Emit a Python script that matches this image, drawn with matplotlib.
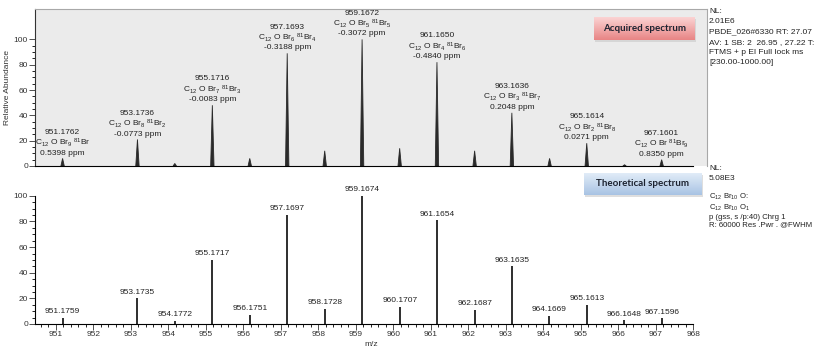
import numpy as np
import matplotlib
matplotlib.use("Agg")
import matplotlib.pyplot as plt

plt.rcParams['font.family'] = ['Liberation Sans', 'DejaVu Sans']
plt.rcParams['mathtext.fontset'] = 'custom'
plt.rcParams['mathtext.rm'] = 'Liberation Sans'
plt.rcParams['mathtext.it'] = 'Liberation Sans:italic'
plt.rcParams['mathtext.bf'] = 'Liberation Sans:bold'

# acquired spectrum - labelled peaks
acq_mz = [951.1762, 953.1736, 955.1716, 957.1693, 959.1672, 961.1650, 963.1636, 965.1614, 967.1601]
acq_int = [6, 21, 48, 89, 100, 82, 42, 18, 5]
acq_formula = [r"C$_{12}$ O Br$_9$ $^{81}$Br", r"C$_{12}$ O Br$_8$ $^{81}$Br$_2$",
               r"C$_{12}$ O Br$_7$ $^{81}$Br$_3$", r"C$_{12}$ O Br$_6$ $^{81}$Br$_4$",
               r"C$_{12}$ O Br$_5$ $^{81}$Br$_5$", r"C$_{12}$ O Br$_4$ $^{81}$Br$_6$",
               r"C$_{12}$ O Br$_3$ $^{81}$Br$_7$", r"C$_{12}$ O Br$_2$ $^{81}$Br$_8$",
               r"C$_{12}$ O Br $^{81}$Br$_9$"]
acq_ppm = ["0.5398", "-0.0773", "-0.0083", "-0.3188", "-0.3072", "-0.4840", "0.2048", "0.0271", "0.8350"]
# acquired spectrum - small unlabelled peaks
acq_minor_mz = [954.17, 956.17, 958.17, 960.17, 962.17, 964.17, 966.17]
acq_minor_int = [2, 6, 12, 14, 12, 6, 1]

# theoretical spectrum
theo_mz = [951.1759, 953.1735, 954.1772, 955.1717, 956.1751, 957.1697, 958.1728, 959.1674,
           960.1707, 961.1654, 962.1687, 963.1635, 964.1669, 965.1613, 966.1648, 967.1596]
theo_int = [5, 20, 2.5, 50, 7, 85, 12, 100, 13.5, 81, 11, 45, 6.5, 15, 3, 4.4]

xmin, xmax = 950.44, 968.37

fig = plt.figure(figsize=(8.19, 3.51), dpi=100)
W, H = 819, 351

def fx(px):
    return px / W

def fy(py):
    return 1 - py / H

# ---- top panel (acquired)
ax1 = fig.add_axes([fx(35), fy(166), fx(707) - fx(35), fy(9) - fy(166)])
ax1.set_facecolor('#ebebeb')
ax1.set_xlim(xmin, xmax)
ax1.set_ylim(0, 124)
hw = 0.045
for m, h in zip(acq_mz + acq_minor_mz, acq_int + acq_minor_int):
    ax1.fill([m - hw, m, m + hw], [0, h, 0], color='#2a2a2a', lw=0.6)
for m, h, f, p in zip(acq_mz, acq_int, acq_formula, acq_ppm):
    ax1.text(m, h + 1.5, f"{m:.4f}\n{f}\n{p} ppm", ha='center', va='bottom',
             fontsize=6, color='#222222', linespacing=1.1)
for s in ['top', 'right']:
    ax1.spines[s].set_color('#a8a8a8')
ax1.spines['left'].set_color('#333333')
ax1.spines['bottom'].set_color('black')
ax1.spines['bottom'].set_bounds(xmin, 968.0)
ax1.set_xticks([])
ax1.set_yticks([0, 20, 40, 60, 80, 100])
ax1.set_yticks([y for y in range(0, 101, 5)], minor=True)
ax1.tick_params(axis='y', labelsize=6, length=4, width=0.6, pad=1, colors='#333333')
ax1.tick_params(axis='y', which='minor', length=2, width=0.6)
ax1.set_ylabel('Relative Abundance', fontsize=6, labelpad=2, color='#333333')

# ---- bottom panel (theoretical)
ax2 = fig.add_axes([fx(35), fy(324), fx(707) - fx(35), fy(183) - fy(324)])
ax2.set_xlim(xmin, xmax)
ax2.set_ylim(0, 110)
ax2.vlines(theo_mz, 0, theo_int, color='#1e1e1e', lw=1.3)
for m, h in zip(theo_mz, theo_int):
    ax2.text(m, h + 2, f"{m:.4f}", ha='center', va='bottom', fontsize=6, color='#222222')
for s in ['top', 'right']:
    ax2.spines[s].set_visible(False)
ax2.spines['left'].set_bounds(0, 100)
ax2.spines['bottom'].set_bounds(xmin, 968.0)
ax2.set_xticks(range(951, 969))
ax2.set_xticks([951 + 0.2 * i for i in range(-2, 86)], minor=True)
ax2.set_yticks([0, 20, 40, 60, 80, 100])
ax2.set_yticks([y for y in range(0, 101, 5)], minor=True)
ax2.tick_params(axis='both', labelsize=6, length=4, width=0.6, pad=1, colors='#333333')
ax2.tick_params(axis='both', which='minor', length=2, width=0.6)
ax2.set_xlabel('m/z', fontsize=6, labelpad=2, color='#333333')

# ---- gradient boxes
def grad_box(x0, y0, x1, y1, c_top, c_bot, label):
    sh = fig.add_axes([fx(x0 + 1), fy(y1 + 2), fx(x1) - fx(x0), fy(y0) - fy(y1)])
    sh.set_facecolor('#c8c8c8')
    sh.set_xticks([]); sh.set_yticks([])
    for s in sh.spines.values():
        s.set_visible(False)
    sh.patch.set_alpha(0.6)
    bx = fig.add_axes([fx(x0), fy(y1), fx(x1) - fx(x0), fy(y0) - fy(y1)])
    t = np.linspace(0, 1, 50)[:, None]
    ct = np.array(matplotlib.colors.to_rgb(c_top))
    cb = np.array(matplotlib.colors.to_rgb(c_bot))
    img = (ct[None, None, :] * (1 - t[..., None]) + cb[None, None, :] * t[..., None])
    bx.imshow(img, aspect='auto', extent=[0, 1, 0, 1])
    bx.set_xticks([]); bx.set_yticks([])
    for s in bx.spines.values():
        s.set_visible(False)
    bx.text(0.5, 0.5, label, ha='center', va='center', fontsize=7, fontweight='bold',
            color='#1c2230', family=['Lato', 'DejaVu Sans'])

grad_box(594, 17, 695, 40, '#fbd3d3', '#e88585', 'Acquired spectrum')
grad_box(584, 173, 702, 195, '#e4eef9', '#a8c3e3', 'Theoretical spectrum')

# ---- side info text
fig.text(fx(709), fy(8), "NL:\n2.01E6\nPBDE_026#6330 RT: 27.07\nAV: 1 SB: 2  26.95 , 27.22 T:\nFTMS + p EI Full lock ms\n[230.00-1000.00]",
         ha='left', va='top', fontsize=6, color='#222222', linespacing=1.65)
fig.text(fx(709), fy(165), "NL:\n5.08E3", ha='left', va='top', fontsize=6, color='#222222', linespacing=1.6)
fig.text(fx(709), fy(192), "C$_{12}$ Br$_{10}$ O:\nC$_{12}$ Br$_{10}$ O$_1$\np (gss, s /p:40) Chrg 1\nR: 60000 Res .Pwr . @FWHM",
         ha='left', va='top', fontsize=5.6, color='#222222', linespacing=1.1)

fig.savefig('out.png', dpi=100)
